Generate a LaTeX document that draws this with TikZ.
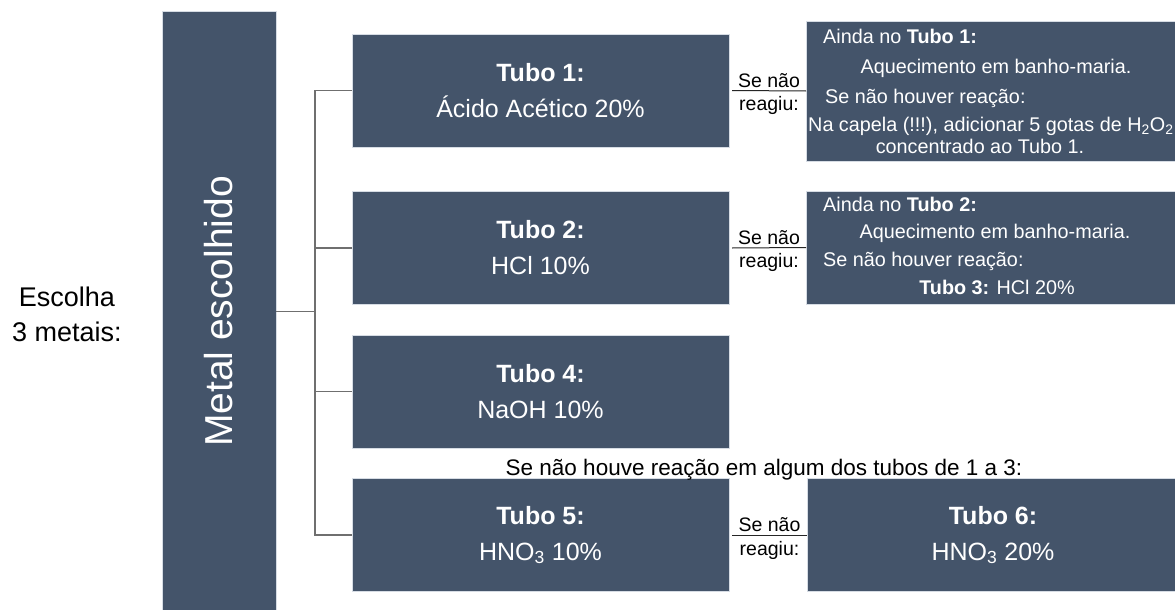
\documentclass[tikz,border=0pt]{standalone}
\usepackage{fontspec}
\setmainfont{Liberation Sans}
\definecolor{boxblue}{HTML}{44546A}
\definecolor{boxedge}{HTML}{D6DCE4}
\definecolor{conngray}{HTML}{6F6F6F}
\begin{document}
\begin{tikzpicture}[x=1pt,y=-1pt,
  boxs/.style={fill=boxblue, draw=boxedge, line width=0.8pt, inner sep=0pt, outer sep=0pt, text=white},
  tubo/.style={boxs, minimum width=377pt, minimum height=113pt, align=center, font=\fontsize{25}{36}\selectfont},
  note/.style={text=white, inner sep=0pt, font=\fontsize{19.8}{24}\selectfont},
  conn/.style={draw=conngray, line width=1.3pt},
  sepline/.style={draw=black!85, line width=1pt},
  lbl/.style={inner sep=0pt, font=\fontsize{19.5}{24}\selectfont, anchor=base},
]
\fill[white] (0,0) rectangle (1175,610);
\path[use as bounding box] (0,0) rectangle (1175,610);
\clip (0,0) rectangle (1175,610);

% left label
\node[align=center, font=\fontsize{27}{35}\selectfont, inner sep=0pt] (esc) at (67,314) {Escolha\\3 metais:};

% bar
\node[boxs, rotate=90, minimum width=601pt, minimum height=114pt, font=\fontsize{39}{44}\selectfont] (bar) at (219,311.5) {Metal escolhido};

% tubes
\node[tubo] (t1) at (540.5,90.5) {\textbf{Tubo 1:}\\Ácido Acético 20\%};
\node[tubo] (t2) at (540.5,248) {\textbf{Tubo 2:}\\HCl 10\%};
\node[tubo] (t4) at (540.5,391.5) {\textbf{Tubo 4:}\\NaOH 10\%};
\node[tubo] (t5) at (540.5,535) {\textbf{Tubo 5:}\\HNO\textsubscript{3} 10\%};
\node[tubo, minimum width=372pt] (t6) at (993,535) {\textbf{Tubo 6:}\\HNO\textsubscript{3} 20\%};

% right boxes
\node[boxs, minimum width=376pt, minimum height=140pt] (r1) at (994,91) {};
\node[boxs, minimum width=376pt, minimum height=113pt] (r2) at (994,247.5) {};

\node[note, anchor=base west] (r1a) at (823,43.5) {Ainda no \textbf{Tubo 1:}};
\node[note, anchor=base] (r1b) at (996,73.5) {Aquecimento em banho-maria.};
\node[note, anchor=base west] (r1c) at (825,103.5) {Se não houver reação:};
\node[note, anchor=base west] (r1d) at (808,131.5) {Na capela (!!!), adicionar 5 gotas de H\textsubscript{2}O\textsubscript{2}};
\node[note, anchor=base] (r1e) at (980,153) {concentrado ao Tubo 1.};

\node[note, anchor=base west] (r2a) at (823,211.5) {Ainda no \textbf{Tubo 2:}};
\node[note, anchor=base] (r2b) at (995,238.5) {Aquecimento em banho-maria.};
\node[note, anchor=base west] (r2c) at (823,266.5) {Se não houver reação:};
\node[note, anchor=base] (r2d) at (997,294.5) {\textbf{Tubo 3:} HCl 20\%};

% note between rows
\node[font=\fontsize{22.5}{27}\selectfont, anchor=base, inner sep=0pt] (n5) at (764,475) {Se não houve reação em algum dos tubos de 1 a 3:};

% tree connectors
\coordinate (jx) at (315,0);
\draw[conn] (bar.south) -- (bar.south -| jx);
\draw[conn] (t1.west) -- (t1.west -| jx) -- (t5.west -| jx) -- (t5.west);
\draw[conn] (t2.west) -- (t2.west -| jx);
\draw[conn] (t4.west) -- (t4.west -| jx);

% "Se nao reagiu" separators
\draw[sepline] ([xshift=3pt]t1.east) -- (r1.west)
  node[lbl, midway, yshift=3.5pt] (s1a) {Se não}
  node[lbl, midway, yshift=-20pt] (s1b) {reagiu:};
\draw[sepline] ([xshift=3pt]t2.east) -- (r2.west)
  node[lbl, midway, yshift=3.5pt] (s2a) {Se não}
  node[lbl, midway, yshift=-20pt] (s2b) {reagiu:};
\draw[sepline] ([xshift=3pt]t5.east) -- (t6.west)
  node[lbl, midway, yshift=3.5pt] (s5a) {Se não}
  node[lbl, midway, yshift=-20pt] (s5b) {reagiu:};
\end{tikzpicture}
\end{document}
